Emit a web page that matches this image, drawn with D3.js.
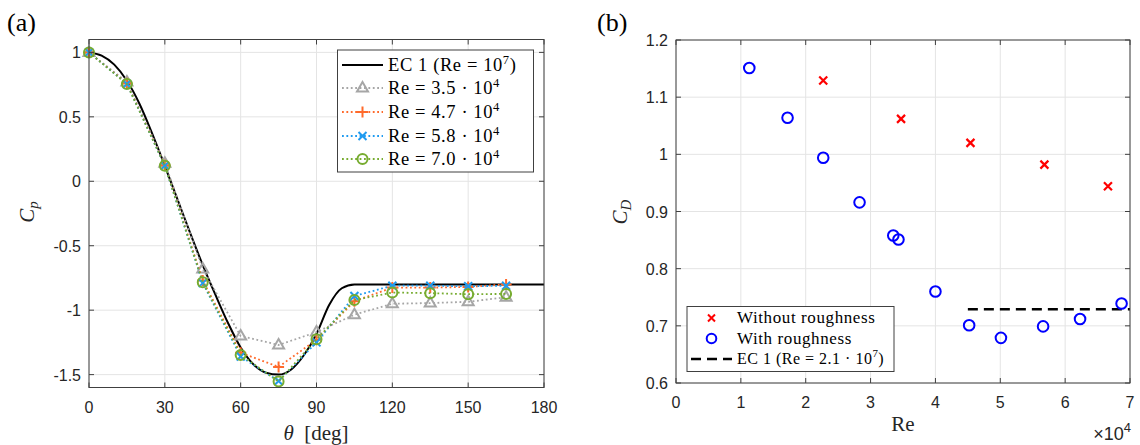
<!DOCTYPE html>
<html><head><meta charset="utf-8">
<script src="https://cdn.jsdelivr.net/npm/d3@7"></script>
<style>body{margin:0;background:#fff;}svg{display:block;}</style>
</head><body>
<svg id="c" width="1140" height="445"></svg>
<script>
// ---------- Data (a) ----------
const thetaDeg = [0,15,30,45,60,75,90,105,120,135,150,165];
const cpRe35 = [1.0,0.77,0.14,-0.68,-1.20,-1.27,-1.17,-1.035,-0.95,-0.945,-0.935,-0.90];
const cpRe47 = [1.0,0.76,0.125,-0.77,-1.33,-1.44,-1.23,-0.93,-0.825,-0.825,-0.82,-0.80];
const cpRe58 = [1.0,0.755,0.12,-0.79,-1.36,-1.55,-1.25,-0.89,-0.81,-0.81,-0.815,-0.81];
const cpRe70 = [1.0,0.754,0.12,-0.783,-1.347,-1.553,-1.225,-0.922,-0.863,-0.868,-0.876,-0.874];
const ecTheta = [0,5,10,15,20,25,30,35,40,45,50,55,60,65,70,75,80,85,90,95,100,105,110,120,130,140,150,160,170,180];
const ecCp = [1.0,0.975,0.905,0.78,0.6,0.37,0.12,-0.14,-0.40,-0.65,-0.88,-1.10,-1.29,-1.42,-1.485,-1.50,-1.46,-1.35,-1.185,-0.96,-0.83,-0.80,-0.80,-0.80,-0.80,-0.80,-0.80,-0.80,-0.80,-0.80];
const xTicksA = [0,30,60,90,120,150,180];
const yTicksA = [-1.5,-1,-0.5,0,0.5,1];
const legendA = ["EC 1", "Re = 3.5", "Re = 4.7", "Re = 5.8", "Re = 7.0"];

// ---------- Data (b) ----------
const reWithout = [22700,34700,45400,56800,66600];
const cdWithout = [1.129,1.062,1.020,0.982,0.944];
const reWith = [11300,17200,22700,28300,33500,34300,40000,45200,50100,56600,62300,68700];
const cdWith = [1.151,1.064,0.994,0.916,0.858,0.851,0.760,0.701,0.679,0.699,0.712,0.739];
const reEC = [45000,70000];
const cdEC = [0.729,0.729];
const xTicksB = [0,10000,20000,30000,40000,50000,60000,70000];
const yTicksB = [0.6,0.7,0.8,0.9,1.0,1.1,1.2];

const svg = d3.select("#c");
const SANS = "'Liberation Sans', Arial, Helvetica, sans-serif";
const SERIF = "'Liberation Serif', 'Times New Roman', serif";
const AX = "#404040", GRID = "#e4e4e4";

const colGray = "#a6a6a6", colOrange = "#ff6a2b", colBlue = "#1f9bf0", colGreen = "#77ac30";

function marker(g, type, x, y, color) {
  if (type === "tri") {
    g.append("path").attr("d", `M${x},${y-6}L${x+5.5},${y+3.5}L${x-5.5},${y+3.5}Z`)
      .attr("fill","none").attr("stroke",color).attr("stroke-width",2);
  } else if (type === "plus") {
    g.append("path").attr("d", `M${x-5.5},${y}L${x+5.5},${y}M${x},${y-5.5}L${x},${y+5.5}`)
      .attr("stroke",color).attr("stroke-width",2);
  } else if (type === "x") {
    g.append("path").attr("d", `M${x-4},${y-4}L${x+4},${y+4}M${x-4},${y+4}L${x+4},${y-4}`)
      .attr("stroke",color).attr("stroke-width",2);
  } else if (type === "circ") {
    g.append("circle").attr("cx",x).attr("cy",y).attr("r",5)
      .attr("fill","none").attr("stroke",color).attr("stroke-width",2);
  }
}

function frame(g, x, y, xTicks, yTicks) {
  const [x0,x1] = x.range(), [y0,y1] = y.range();
  xTicks.forEach(t => g.append("line").attr("x1",x(t)).attr("x2",x(t)).attr("y1",y0).attr("y2",y1).attr("stroke",GRID).attr("stroke-width",1));
  yTicks.forEach(t => g.append("line").attr("x1",x0).attr("x2",x1).attr("y1",y(t)).attr("y2",y(t)).attr("stroke",GRID).attr("stroke-width",1));
}
function frameTop(g, x, y, xTicks, yTicks) {
  const [x0,x1] = x.range(), [y0,y1] = y.range();
  g.append("rect").attr("x",x0).attr("y",y1).attr("width",x1-x0).attr("height",y0-y1)
    .attr("fill","none").attr("stroke",AX).attr("stroke-width",1);
  const tl = 5;
  xTicks.forEach(t => {
    g.append("line").attr("x1",x(t)).attr("x2",x(t)).attr("y1",y0).attr("y2",y0-tl).attr("stroke",AX);
    g.append("line").attr("x1",x(t)).attr("x2",x(t)).attr("y1",y1).attr("y2",y1+tl).attr("stroke",AX);
  });
  yTicks.forEach(t => {
    g.append("line").attr("x1",x0).attr("x2",x0+tl).attr("y1",y(t)).attr("y2",y(t)).attr("stroke",AX);
    g.append("line").attr("x1",x1).attr("x2",x1-tl).attr("y1",y(t)).attr("y2",y(t)).attr("stroke",AX);
  });
}

// ================= Panel (a) =================
const xa = d3.scaleLinear().domain([0,180]).range([89,544]);
const ya = d3.scaleLinear().domain([-1.6,1.1]).range([387.5,39.5]);
const ga = svg.append("g");
frame(ga, xa, ya, xTicksA, yTicksA);

ga.selectAll(".xl").data(xTicksA).enter().append("text")
  .attr("x", d => xa(d)).attr("y", 413).attr("text-anchor","middle")
  .attr("font-family",SANS).attr("font-size",16).attr("fill","#262626").text(d => d);
ga.selectAll(".yl").data(yTicksA).enter().append("text")
  .attr("x", 81).attr("y", d => ya(d)+6).attr("text-anchor","end")
  .attr("font-family",SANS).attr("font-size",16).attr("fill","#262626").text(d => String(d));

const ecPts = ecTheta.map((t,i) => [t, ecCp[i]]);
ga.append("path").datum(ecPts)
  .attr("d", d3.line().x(d => xa(d[0])).y(d => ya(d[1])).curve(d3.curveMonotoneX))
  .attr("fill","none").attr("stroke","#000").attr("stroke-width",2);

const seriesA = [
  {v: cpRe35, c: colGray, m: "tri"},
  {v: cpRe47, c: colOrange, m: "plus"},
  {v: cpRe58, c: colBlue, m: "x"},
  {v: cpRe70, c: colGreen, m: "circ"}
];
seriesA.forEach(s => {
  const pts = thetaDeg.map((t,i) => [t, s.v[i]]);
  ga.append("path").datum(pts)
    .attr("d", d3.line().x(d => xa(d[0])).y(d => ya(d[1])))
    .attr("fill","none").attr("stroke",s.c).attr("stroke-width",1.8).attr("stroke-dasharray","1.8,2.6");
  pts.forEach(p => marker(ga, s.m, xa(p[0]), ya(p[1]), s.c));
});
frameTop(ga, xa, ya, xTicksA, yTicksA);

// legend (a)
const la = ga.append("g");
la.append("rect").attr("x",337.5).attr("y",50).attr("width",196).attr("height",122)
  .attr("fill","#fff").attr("stroke",AX).attr("stroke-width",1);
const rowsA = [65, 88, 112, 136, 159];
la.append("line").attr("x1",342).attr("x2",383).attr("y1",rowsA[0]).attr("y2",rowsA[0]).attr("stroke","#000").attr("stroke-width",2);
seriesA.forEach((s,i) => {
  const y = rowsA[i+1];
  la.append("line").attr("x1",342).attr("x2",383).attr("y1",y).attr("y2",y)
    .attr("stroke",s.c).attr("stroke-width",1.8).attr("stroke-dasharray","1.8,2.6");
  marker(la, s.m, 362.5, y, s.c);
});
function supText(g, x, y, pre, sup, post, size, ls) {
  const t = g.append("text").attr("x",x).attr("y",y).attr("font-family",SERIF).attr("font-size",size)
    .attr("letter-spacing", ls).attr("fill","#000");
  t.append("tspan").text(pre);
  t.append("tspan").attr("dy",-7).attr("font-size",size*0.68).text(sup);
  if (post) t.append("tspan").attr("dy",7).text(post);
  return t;
}
supText(la, 388, rowsA[0]+6, legendA[0] + " (Re = 10", "7", ")", 18.5, 0.6);
for (let i = 1; i < 5; i++) supText(la, 388, rowsA[i]+6, legendA[i] + " \u00b7 10", "4", null, 18.5, 0.6);

// axis labels (a)
const xlabA = ga.append("text").attr("x",316).attr("y",440).attr("text-anchor","middle")
  .attr("font-family",SERIF).attr("font-size",21).attr("fill","#262626");
xlabA.append("tspan").attr("font-style","italic").text("\u03b8");
xlabA.append("tspan").text("\u00a0 [deg]");
const ylabA = ga.append("text").attr("transform","translate(34,212) rotate(-90)").attr("text-anchor","middle")
  .attr("font-family",SERIF).attr("font-size",21).attr("fill","#262626");
ylabA.append("tspan").attr("font-style","italic").text("C");
ylabA.append("tspan").attr("font-style","italic").attr("font-size",15).attr("dy",4).text("p");
svg.append("text").attr("x",7).attr("y",31).attr("font-family",SERIF).attr("font-size",26).attr("fill","#000").text("(a)");

// ================= Panel (b) =================
const xb = d3.scaleLinear().domain([0,70000]).range([676,1130]);
const yb = d3.scaleLinear().domain([0.6,1.2]).range([383,40]);
const gb = svg.append("g");
frame(gb, xb, yb, xTicksB, yTicksB);
gb.selectAll(".xl").data(xTicksB).enter().append("text")
  .attr("x", d => xb(d)).attr("y", 408).attr("text-anchor","middle")
  .attr("font-family",SANS).attr("font-size",16).attr("fill","#262626").text(d => d/10000);
gb.selectAll(".yl").data(yTicksB).enter().append("text")
  .attr("x", 668).attr("y", d => yb(d)+6).attr("text-anchor","end")
  .attr("font-family",SANS).attr("font-size",16).attr("fill","#262626").text(d => String(+d.toFixed(1)));

const ecB = reEC.map((r,i) => [r, cdEC[i]]);
gb.append("path").datum(ecB)
  .attr("d", d3.line().x(d => xb(d[0])).y(d => yb(d[1])))
  .attr("fill","none").attr("stroke","#000").attr("stroke-width",2.5).attr("stroke-dasharray","10,6");
reWithout.forEach((r,i) => {
  const x = xb(r), y = yb(cdWithout[i]);
  gb.append("path").attr("d",`M${x-4},${y-4}L${x+4},${y+4}M${x-4},${y+4}L${x+4},${y-4}`)
    .attr("stroke","#ff0000").attr("stroke-width",2.2);
});
reWith.forEach((r,i) => {
  gb.append("circle").attr("cx",xb(r)).attr("cy",yb(cdWith[i])).attr("r",5.3)
    .attr("fill","none").attr("stroke","#0000ff").attr("stroke-width",2);
});
frameTop(gb, xb, yb, xTicksB, yTicksB);

// legend (b)
const lb = gb.append("g");
lb.append("rect").attr("x",687).attr("y",306.5).attr("width",207).attr("height",65)
  .attr("fill","#fff").attr("stroke",AX).attr("stroke-width",1);
const rowsB = [318, 338.5, 359];
{
  const x = 711.5, y = rowsB[0];
  lb.append("path").attr("d",`M${x-3.5},${y-3.5}L${x+3.5},${y+3.5}M${x-3.5},${y+3.5}L${x+3.5},${y-3.5}`)
    .attr("stroke","#ff0000").attr("stroke-width",2);
  lb.append("circle").attr("cx",x).attr("cy",rowsB[1]).attr("r",4.8)
    .attr("fill","none").attr("stroke","#0000ff").attr("stroke-width",2);
  lb.append("line").attr("x1",691).attr("x2",732).attr("y1",rowsB[2]).attr("y2",rowsB[2])
    .attr("stroke","#000").attr("stroke-width",2.5).attr("stroke-dasharray","10,6");
}
lb.append("text").attr("x",737).attr("y",rowsB[0]+5).attr("font-family",SERIF).attr("font-size",17).attr("letter-spacing",0.6).text("Without roughness");
lb.append("text").attr("x",737).attr("y",rowsB[1]+5).attr("font-family",SERIF).attr("font-size",17).attr("letter-spacing",0.6).text("With roughness");
supText(lb, 737, rowsB[2]+5, "EC 1 (Re = 2.1 \u00b7 10", "7", ")", 16, 0.5);

// axis labels (b)
gb.append("text").attr("x",903).attr("y",431).attr("text-anchor","middle")
  .attr("font-family",SERIF).attr("font-size",21).attr("fill","#262626").text("Re");
const ylabB = gb.append("text").attr("transform","translate(627,212) rotate(-90)").attr("text-anchor","middle")
  .attr("font-family",SERIF).attr("font-size",21).attr("fill","#262626");
ylabB.append("tspan").attr("font-style","italic").text("C");
ylabB.append("tspan").attr("font-style","italic").attr("font-size",15).attr("dy",4).text("D");
const mult = gb.append("text").attr("x",1131).attr("y",440).attr("text-anchor","end")
  .attr("font-family",SANS).attr("font-size",18).attr("fill","#262626");
mult.append("tspan").text("\u00d710");
mult.append("tspan").attr("dy",-8).attr("font-size",13).text("4");
svg.append("text").attr("x",597).attr("y",31).attr("font-family",SERIF).attr("font-size",26).attr("fill","#000").text("(b)");
</script>
</body></html>
